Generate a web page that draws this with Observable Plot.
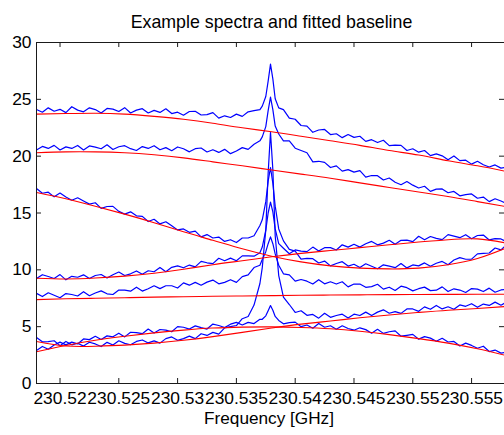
<!DOCTYPE html>
<html><head><meta charset="utf-8">
<script src="https://cdn.jsdelivr.net/npm/d3@7"></script>
<script src="https://cdn.jsdelivr.net/npm/@observablehq/plot@0.6"></script>
<style>body{margin:0;background:#fff}</style>
</head><body><div id="chart"></div>
<script>
const title = "Example spectra and fitted baseline";
const xLabel = "Frequency [GHz]";
const xTicks = [230.52, 230.525, 230.53, 230.535, 230.54, 230.545, 230.55, 230.555];
const xTickLabels = ["230.52", "230.525", "230.53", "230.535", "230.54", "230.545", "230.55", "230.555"];
const yTicks = [0, 5, 10, 15, 20, 25, 30];

// measured spectra (GHz)
const freq = [
230.518, 230.5185, 230.519, 230.5195, 230.52, 230.5205, 230.521, 230.5215, 230.522, 230.5225,
230.523, 230.5235, 230.524, 230.5245, 230.525, 230.5255, 230.526, 230.5265, 230.527, 230.5275,
230.528, 230.5285, 230.529, 230.5295, 230.53, 230.5305, 230.531, 230.5315, 230.532, 230.5325,
230.533, 230.5335, 230.534, 230.5345, 230.535, 230.5355, 230.536, 230.5365, 230.537,
230.5372, 230.5375, 230.5377, 230.5379, 230.5381, 230.5383, 230.5386,
230.539, 230.5395, 230.54, 230.5405, 230.541, 230.5415, 230.542, 230.5425, 230.543, 230.5435,
230.544, 230.5445, 230.545, 230.5455, 230.546, 230.5465, 230.547, 230.5475, 230.548, 230.5485,
230.549, 230.5495, 230.55, 230.5505, 230.551, 230.5515, 230.552, 230.5525, 230.553, 230.5535,
230.554, 230.5545, 230.555, 230.5555, 230.556, 230.5565, 230.557, 230.5575, 230.558];

const spectrumA = [
24.10, 23.87, 24.25, 23.95, 24.12, 23.83, 24.35, 24.05, 23.90, 24.25,
24.10, 23.80, 24.20, 24.14, 23.93, 24.27, 23.80, 24.05, 24.18, 23.80,
24.03, 23.85, 24.17, 23.75, 23.87, 23.60, 23.93, 23.95, 23.62, 23.65,
23.83, 23.35, 23.55, 23.40, 23.70, 23.50, 23.90, 24.00, 24.10,
24.4, 25.25, 26.6, 28.1, 26.8, 25.05, 24.25,
24.10, 23.35, 23.25, 22.70, 22.65, 22.10, 22.30, 22.35, 21.90, 21.97,
21.63, 21.90, 21.65, 21.75, 21.30, 21.45, 21.20, 21.40, 20.93, 20.97,
20.95, 20.50, 20.65, 20.35, 20.50, 20.05, 20.20, 20.03, 19.68, 20.02,
19.61, 19.65, 19.30, 19.55, 19.25, 19.05, 19.23, 18.95, 19.02];

const spectrumB = [
20.55, 20.86, 20.68, 20.95, 20.55, 20.82, 20.68, 20.94, 20.55, 20.90,
20.80, 20.65, 21.00, 20.59, 20.83, 20.92, 20.66, 20.50, 20.84, 20.68,
20.92, 20.56, 20.75, 20.48, 20.81, 20.65, 20.38, 20.66, 20.72, 20.37,
20.57, 20.33, 20.60, 20.22, 20.45, 20.75, 20.60, 21.05, 21.35,
21.7, 22.6, 24.0, 25.2, 24.1, 22.65, 21.95,
21.35, 21.35, 20.70, 20.50, 20.30, 19.50, 19.55, 19.45, 19.00, 19.15,
18.68, 18.82, 18.60, 18.73, 18.16, 18.30, 18.28, 17.90, 18.08, 17.71,
17.49, 17.77, 17.45, 17.20, 17.35, 16.90, 17.10, 17.12, 16.78, 16.90,
16.51, 16.62, 16.68, 16.30, 16.40, 16.00, 16.25, 16.05, 15.82];

const spectrumC = [
17.15, 16.74, 16.83, 16.42, 16.76, 16.40, 16.12, 16.34, 16.06, 15.78,
15.90, 15.41, 15.57, 15.58, 15.14, 14.90, 15.10, 14.75, 14.70, 14.25,
14.45, 14.04, 14.23, 13.87, 13.51, 13.60, 13.30, 13.40, 12.90, 13.10,
12.80, 12.88, 12.50, 12.65, 12.40, 12.80, 12.80, 13.00, 13.90,
14.4, 16.0, 17.8, 19.0, 17.6, 15.6, 13.6,
12.55, 11.80, 11.65, 10.95, 11.00, 10.98, 10.60, 10.77, 10.35, 10.56,
10.72, 10.33, 10.49, 10.20, 10.53, 10.31, 10.10, 10.44, 10.33, 10.19,
10.55, 10.17, 10.43, 10.35, 10.61, 10.32, 10.58, 10.74, 10.45, 10.86,
11.07, 10.93, 10.94, 11.40, 11.44, 11.48, 11.92, 11.76, 12.25];

const spectrumD = [
9.23, 9.57, 9.41, 9.24, 9.58, 9.12, 9.43, 9.35, 9.56, 9.23,
9.50, 9.59, 9.28, 9.57, 9.81, 9.50, 9.65, 9.90, 9.61, 9.92,
9.83, 10.21, 9.84, 10.22, 10.35, 10.18, 10.42, 10.26, 10.74, 10.62,
10.55, 11.02, 10.80, 11.03, 10.80, 11.23, 11.22, 11.20, 11.50,
12.0, 13.5, 15.0, 15.95, 15.1, 13.6, 12.3,
11.90, 11.42, 11.75, 11.65, 11.60, 12.00, 11.65, 11.95, 11.95, 11.75,
12.20, 12.00, 12.25, 12.00, 12.30, 12.50, 12.20, 12.35, 12.60, 12.25,
12.60, 12.62, 12.48, 12.95, 12.64, 12.93, 12.77, 12.66, 13.10, 12.97,
12.83, 13.09, 12.74, 13.02, 13.06, 12.63, 12.75, 12.72, 12.44];

const spectrumE = [
7.93, 7.65, 7.98, 7.76, 7.55, 7.91, 7.83, 7.70, 8.08, 7.72,
7.96, 8.15, 7.89, 7.83, 8.22, 8.22, 8.12, 8.47, 8.13, 8.34,
8.60, 8.35, 8.60, 8.60, 8.40, 8.85, 8.65, 8.90, 8.65, 8.92,
9.10, 8.77, 8.90, 9.13, 8.90, 9.40, 9.55, 10.20, 10.40,
10.9, 11.6, 12.3, 12.9, 12.3, 11.4, 10.4,
9.65, 9.55, 9.00, 9.15, 9.00, 8.75, 9.13, 8.77, 8.95, 8.75,
8.95, 8.50, 8.75, 8.75, 8.46, 8.52, 8.73, 8.30, 8.47, 8.19,
8.56, 8.43, 8.15, 8.34, 8.48, 8.17, 8.21, 8.50, 8.09, 8.33,
8.22, 8.01, 8.35, 8.30, 8.09, 8.39, 8.03, 8.23, 8.28];

const spectrumF = [
4.05, 3.67, 3.69, 3.76, 3.33, 3.70, 3.40, 3.54, 3.29, 3.63,
3.48, 3.25, 3.62, 3.39, 3.76, 3.53, 3.41, 3.70, 3.83, 3.57,
3.75, 3.55, 3.95, 4.10, 3.80, 3.95, 4.17, 3.95, 4.38, 4.23,
4.50, 4.35, 4.90, 5.00, 5.10, 5.70, 5.90, 6.90, 8.80,
10.2, 13.5, 18.5, 22.1, 18.8, 13.0, 9.5,
7.60, 6.95, 6.25, 6.40, 6.00, 6.08, 5.75, 6.18, 5.82, 5.98,
6.10, 5.77, 6.10, 5.98, 6.28, 5.98, 6.28, 6.48, 6.18, 6.32,
6.17, 6.56, 6.56, 6.35, 6.74, 6.53, 6.87, 6.56, 6.75, 6.53,
6.91, 6.79, 7.02, 6.70, 6.99, 6.87, 7.16, 6.89, 7.18];

const spectrumG = [
2.90, 3.26, 3.02, 3.38, 3.64, 3.40, 3.64, 3.48, 3.92, 3.86,
4.15, 3.87, 4.19, 4.11, 4.43, 4.10, 4.51, 4.47, 4.38, 4.79,
4.45, 4.75, 4.70, 4.55, 5.00, 4.95, 4.79, 5.07, 4.91, 4.79,
5.23, 5.10, 4.93, 5.22, 5.38, 5.15, 5.38, 5.27, 5.65,
5.65, 5.95, 6.4, 6.86, 6.45, 5.9, 5.55,
5.25, 5.35, 5.40, 5.00, 5.15, 4.86, 5.28, 4.95, 5.08, 4.78,
5.08, 4.84, 4.69, 4.90, 4.74, 4.43, 4.77, 4.41, 4.55, 4.63,
4.16, 4.24, 4.32, 3.90, 4.12, 3.99, 3.71, 3.98, 3.65, 3.70,
3.30, 3.55, 3.35, 3.10, 3.28, 2.81, 2.94, 2.67, 2.75];

// fitted baselines
const baseFreq = [230.518, 230.5205, 230.523, 230.5255, 230.528, 230.5305, 230.533, 230.5355, 230.538,
  230.5405, 230.543, 230.5455, 230.548, 230.5505, 230.553, 230.5555, 230.558];
const baselineA = [23.7, 23.75, 23.78, 23.7, 23.5, 23.25, 22.9, 22.5, 22.15, 21.75, 21.35, 20.95, 20.5, 20.1, 19.6, 19.15, 18.65];
const baselineB = [20.3, 20.38, 20.38, 20.3, 20.12, 19.85, 19.5, 19.15, 18.78, 18.42, 18.06, 17.65, 17.25, 16.85, 16.45, 16.0, 15.55];
const baselineC = [16.8, 16.25, 15.6, 14.9, 14.15, 13.35, 12.6, 11.85, 11.2, 10.7, 10.35, 10.15, 10.08, 10.15, 10.45, 11.0, 11.95];
const baselineD = [9.26, 9.2, 9.28, 9.45, 9.7, 10.05, 10.45, 10.8, 11.15, 11.45, 11.7, 11.95, 12.2, 12.45, 12.65, 12.72, 12.35];
const baselineE = [7.38, 7.45, 7.5, 7.55, 7.6, 7.63, 7.67, 7.7, 7.73, 7.76, 7.78, 7.8, 7.82, 7.83, 7.84, 7.85, 7.85];
const baselineF = [3.7, 3.3, 3.28, 3.38, 3.55, 3.8, 4.12, 4.5, 4.88, 5.22, 5.5, 5.78, 6.03, 6.25, 6.45, 6.6, 6.78];
const baselineG = [2.8, 3.35, 3.8, 4.15, 4.45, 4.7, 4.88, 4.96, 4.98, 4.93, 4.82, 4.6, 4.3, 3.95, 3.55, 3.05, 2.45];

const spectra = [spectrumA, spectrumB, spectrumC, spectrumD, spectrumE, spectrumF, spectrumG];
const baselines = [baselineA, baselineB, baselineC, baselineD, baselineE, baselineF, baselineG];
spectra.forEach((s, k) => { if (s.length !== freq.length) console.error("spectrum", k, s.length); });

const specRows = spectra.flatMap((s, k) => s.map((v, i) => ({f: freq[i], v, k})));
const baseRows = baselines.flatMap((s, k) => s.map((v, i) => ({f: baseFreq[i], v, k})));

const W = 504, H = 435, mL = 36, mR = 0, mT = 42, mB = 52;
const fw = W - mL - mR, fh = H - mT - mB;
const axisColor = "#1a1a1a";

const chart = Plot.plot({
  width: W, height: H,
  marginLeft: mL, marginRight: mR, marginTop: mT, marginBottom: mB,
  style: {fontFamily: "'Liberation Sans', Arial, Helvetica, sans-serif", fontSize: "17px", background: "#fff", color: "#000"},
  x: {domain: [230.518, 230.5578]},
  y: {domain: [0, 30]},
  marks: [
    Plot.line(specRows, {x: "f", y: "v", z: "k", stroke: "#0000ff", strokeWidth: 1.2, clip: true}),
    Plot.line(baseRows, {x: "f", y: "v", z: "k", stroke: "#ff0000", strokeWidth: 1.1, curve: "natural", clip: true}),
    Plot.ruleX([230.518], {stroke: axisColor}),
    Plot.ruleY([0], {stroke: axisColor}),
    Plot.ruleY([30], {stroke: axisColor}),
    Plot.ruleX(xTicks, {x: d => d, insetTop: fh - 5, stroke: axisColor}),
    Plot.ruleX(xTicks, {x: d => d, insetBottom: fh - 5, stroke: axisColor}),
    Plot.ruleY(yTicks, {y: d => d, insetRight: fw - 5, stroke: axisColor}),
    Plot.ruleY(yTicks, {y: d => d, insetLeft: fw - 5, stroke: axisColor}),
    Plot.axisX({ticks: xTicks, tickFormat: d => xTickLabels[xTicks.indexOf(d)], tickSize: 0, tickPadding: 8, label: null, fontSize: 17.4}),
    Plot.axisY({ticks: yTicks, tickSize: 0, tickPadding: 5, label: null, fontSize: 17.4}),
    Plot.text([title], {frameAnchor: "top", lineAnchor: "middle", dy: -20.7, dx: 1, fontSize: 17.8}),
    Plot.text([xLabel], {frameAnchor: "bottom", lineAnchor: "middle", dy: 34.5, dx: -1.5, fontSize: 17.2})
  ]
});
document.getElementById("chart").appendChild(chart);
</script>
</body></html>
